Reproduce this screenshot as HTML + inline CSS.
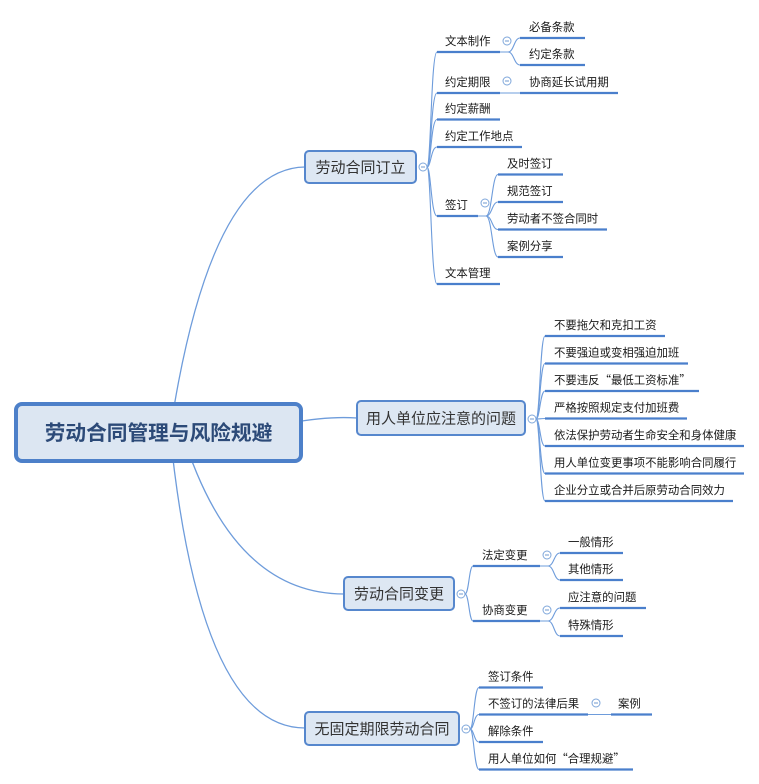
<!DOCTYPE html>
<html>
<head>
<meta charset="utf-8">
<style>
  html,body{margin:0;padding:0;background:#ffffff;}
  body{width:759px;height:784px;overflow:hidden;}
  svg{display:block;}
  text{font-family:"Liberation Sans","Noto Sans CJK SC",sans-serif;}
  .q{font-family:"Noto Sans CJK SC","WenQuanYi Zen Hei",sans-serif;}
  .sub{font-size:11.4px;fill:#1a1a1a;}
  .main{font-size:15px;fill:#333333;}
</style>
</head>
<body>
<svg width="759" height="784" viewBox="0 0 759 784" xmlns="http://www.w3.org/2000/svg">
  <!-- root connectors -->
  <g fill="none" stroke="#6e9cdb" stroke-width="1.3">
    <path d="M170,432 Q210,168 305,167"/>
    <path d="M290,423 Q328,416 357,418"/>
    <path d="M182,432 Q232,594 344,594"/>
    <path d="M170,432 Q200,728 305,728"/>
  </g>

  <!-- branch connectors -->
  <g fill="none" stroke="#6e9cdb" stroke-width="1.1">
    <!-- branch 1 -->
    <path d="M427,167 C431,167 431,52 437,52"/>
    <path d="M427,167 C431,167 431,93 437,93"/>
    <path d="M427,167 C431,167 431,119.5 437,119.5"/>
    <path d="M427,167 C431,167 431,147 437,147"/>
    <path d="M427,167 C431,167 431,216 437,216"/>
    <path d="M427,167 C431,167 431,284 437,284"/>
    <!-- 文本制作 children -->
    <path d="M500,52 L508,52 C514,52 514,38 520,38"/>
    <path d="M500,52 L508,52 C514,52 514,65 520,65"/>
    <!-- 约定期限 child -->
    <path d="M500,93 L520,93"/>
    <!-- 签订 children -->
    <path d="M478,216 L486,216 C492,216 492,174.5 498,174.5"/>
    <path d="M478,216 L486,216 C492,216 492,202 498,202"/>
    <path d="M478,216 L486,216 C492,216 492,229.5 498,229.5"/>
    <path d="M478,216 L486,216 C492,216 492,257 498,257"/>

    <!-- branch 2 -->
    <path d="M536,419 C540,419 540,336 545,336"/>
    <path d="M536,419 C540,419 540,363.5 545,363.5"/>
    <path d="M536,419 C540,419 540,391 545,391"/>
    <path d="M536,419 C540,419 540,418.5 545,418.5"/>
    <path d="M536,419 C540,419 540,446 545,446"/>
    <path d="M536,419 C540,419 540,473.5 545,473.5"/>
    <path d="M536,419 C540,419 540,501 545,501"/>

    <!-- branch 3 -->
    <path d="M465,594 C469,594 469,566 473,566"/>
    <path d="M465,594 C469,594 469,621 473,621"/>
    <path d="M540,566 L548,566 C554,566 554,553 560,553"/>
    <path d="M540,566 L548,566 C554,566 554,580 560,580"/>
    <path d="M540,621 L548,621 C554,621 554,608 560,608"/>
    <path d="M540,621 L548,621 C554,621 554,636 560,636"/>

    <!-- branch 4 -->
    <path d="M470,729 C474,729 474,687.5 479,687.5"/>
    <path d="M470,729 C474,729 474,714.5 479,714.5"/>
    <path d="M470,729 C474,729 474,742 479,742"/>
    <path d="M470,729 C474,729 474,769.5 479,769.5"/>
    <path d="M588,714.5 L611,714.5"/>
  </g>

  <!-- underlines -->
  <g stroke="#4a7fcc" stroke-width="2.3" fill="none">
    <line x1="437" y1="52" x2="500" y2="52"/>
    <line x1="520" y1="38" x2="585" y2="38"/>
    <line x1="520" y1="65" x2="585" y2="65"/>
    <line x1="437" y1="93" x2="500" y2="93"/>
    <line x1="520" y1="93" x2="618" y2="93"/>
    <line x1="437" y1="119.5" x2="500" y2="119.5"/>
    <line x1="437" y1="147" x2="522" y2="147"/>
    <line x1="437" y1="216" x2="478" y2="216"/>
    <line x1="498" y1="174.5" x2="563" y2="174.5"/>
    <line x1="498" y1="202" x2="563" y2="202"/>
    <line x1="498" y1="229.5" x2="607" y2="229.5"/>
    <line x1="498" y1="257" x2="563" y2="257"/>
    <line x1="437" y1="284" x2="500" y2="284"/>

    <line x1="545" y1="336" x2="665" y2="336"/>
    <line x1="545" y1="363.5" x2="688" y2="363.5"/>
    <line x1="545" y1="391" x2="699" y2="391"/>
    <line x1="545" y1="418.5" x2="687" y2="418.5"/>
    <line x1="545" y1="446" x2="744" y2="446"/>
    <line x1="545" y1="473.5" x2="744" y2="473.5"/>
    <line x1="545" y1="501" x2="733" y2="501"/>

    <line x1="473" y1="566" x2="540" y2="566"/>
    <line x1="560" y1="553" x2="623" y2="553"/>
    <line x1="560" y1="580" x2="623" y2="580"/>
    <line x1="473" y1="621" x2="540" y2="621"/>
    <line x1="560" y1="608" x2="646" y2="608"/>
    <line x1="560" y1="636" x2="623" y2="636"/>

    <line x1="479" y1="687.5" x2="543" y2="687.5"/>
    <line x1="479" y1="714.5" x2="588" y2="714.5"/>
    <line x1="611" y1="714.5" x2="652" y2="714.5"/>
    <line x1="479" y1="742" x2="543" y2="742"/>
    <line x1="479" y1="769.5" x2="633" y2="769.5"/>
  </g>

  <!-- root box -->
  <rect x="16" y="404" width="285" height="57" rx="6" ry="6" fill="#dce6f2" stroke="#4d80c9" stroke-width="4"/>
  <text x="158.5" y="440" text-anchor="middle" font-size="20.7" font-weight="bold" fill="#2c4a78">劳动合同管理与风险规避</text>

  <!-- main boxes -->
  <g fill="#dde7f3" stroke="#5687cd" stroke-width="2">
    <rect x="305" y="151" width="111" height="32" rx="4" ry="4"/>
    <rect x="357" y="401" width="168" height="34" rx="4" ry="4"/>
    <rect x="344" y="577" width="110" height="33" rx="4" ry="4"/>
    <rect x="305" y="712" width="154" height="33" rx="4" ry="4"/>
  </g>
  <text class="main" x="360.5" y="172.5" text-anchor="middle">劳动合同订立</text>
  <text class="main" x="441" y="423.5" text-anchor="middle">用人单位应注意的问题</text>
  <text class="main" x="399" y="599" text-anchor="middle">劳动合同变更</text>
  <text class="main" x="382" y="734" text-anchor="middle">无固定期限劳动合同</text>

  <!-- collapse circles -->
  <g fill="#ffffff" stroke="#7fa7db" stroke-width="1">
    <circle cx="423" cy="167" r="4"/>
    <circle cx="532" cy="419" r="4"/>
    <circle cx="461" cy="594" r="4"/>
    <circle cx="466" cy="729" r="4"/>
    <circle cx="507" cy="41" r="4"/>
    <circle cx="507" cy="81" r="4"/>
    <circle cx="485" cy="203" r="4"/>
    <circle cx="547" cy="555" r="4"/>
    <circle cx="547" cy="610" r="4"/>
    <circle cx="596" cy="703" r="4"/>
  </g>
  <g stroke="#6f98cf" stroke-width="1">
    <line x1="421" y1="167" x2="425" y2="167"/>
    <line x1="530" y1="419" x2="534" y2="419"/>
    <line x1="459" y1="594" x2="463" y2="594"/>
    <line x1="464" y1="729" x2="468" y2="729"/>
    <line x1="505" y1="41" x2="509" y2="41"/>
    <line x1="505" y1="81" x2="509" y2="81"/>
    <line x1="483" y1="203" x2="487" y2="203"/>
    <line x1="545" y1="555" x2="549" y2="555"/>
    <line x1="545" y1="610" x2="549" y2="610"/>
    <line x1="594" y1="703" x2="598" y2="703"/>
  </g>

  <!-- sub topic texts -->
  <g class="sub">
    <text class="sub" x="445" y="45">文本制作</text>
    <text class="sub" x="529" y="31">必备条款</text>
    <text class="sub" x="529" y="58">约定条款</text>
    <text class="sub" x="445" y="86">约定期限</text>
    <text class="sub" x="529" y="86">协商延长试用期</text>
    <text class="sub" x="445" y="112.5">约定薪酬</text>
    <text class="sub" x="445" y="140">约定工作地点</text>
    <text class="sub" x="445" y="209">签订</text>
    <text class="sub" x="507" y="167.5">及时签订</text>
    <text class="sub" x="507" y="195">规范签订</text>
    <text class="sub" x="507" y="222.5">劳动者不签合同时</text>
    <text class="sub" x="507" y="250">案例分享</text>
    <text class="sub" x="445" y="277">文本管理</text>

    <text class="sub" x="554" y="329">不要拖欠和克扣工资</text>
    <text class="sub" x="554" y="356.5">不要强迫或变相强迫加班</text>
    <text class="sub" x="554" y="384">不要违反<tspan class="q">“</tspan>最低工资标准<tspan class="q">”</tspan></text>
    <text class="sub" x="554" y="411.5">严格按照规定支付加班费</text>
    <text class="sub" x="554" y="439">依法保护劳动者生命安全和身体健康</text>
    <text class="sub" x="554" y="466.5">用人单位变更事项不能影响合同履行</text>
    <text class="sub" x="554" y="494">企业分立或合并后原劳动合同效力</text>

    <text class="sub" x="482" y="559">法定变更</text>
    <text class="sub" x="568" y="546">一般情形</text>
    <text class="sub" x="568" y="573">其他情形</text>
    <text class="sub" x="482" y="614">协商变更</text>
    <text class="sub" x="568" y="601">应注意的问题</text>
    <text class="sub" x="568" y="629">特殊情形</text>

    <text class="sub" x="488" y="680.5">签订条件</text>
    <text class="sub" x="488" y="707.5">不签订的法律后果</text>
    <text class="sub" x="618" y="707.5">案例</text>
    <text class="sub" x="488" y="735">解除条件</text>
    <text class="sub" x="488" y="762.5">用人单位如何<tspan class="q">“</tspan>合理规避<tspan class="q">”</tspan></text>
  </g>
</svg>
</body>
</html>
